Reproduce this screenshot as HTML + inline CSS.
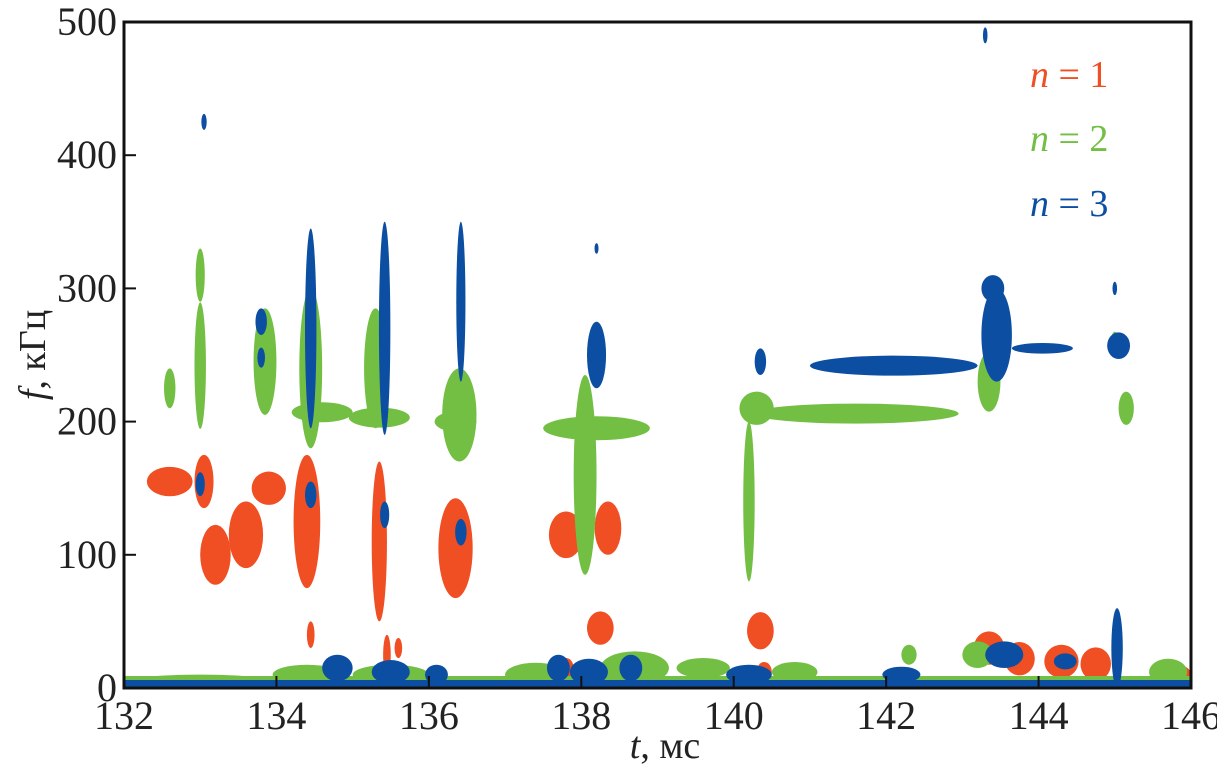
<!DOCTYPE html>
<html><head><meta charset="utf-8"><style>
html,body{margin:0;padding:0;background:#fff;}
svg, svg text{font-family:"Liberation Serif","DejaVu Serif",serif;}
</style></head><body>
<svg id="chart" width="1217" height="771" viewBox="0 0 1217 771" xmlns="http://www.w3.org/2000/svg" font-family="Liberation Serif, serif">
<g id="marks"></g>
<g id="axes"></g>
<g font-size="38" font-family="Liberation Serif, serif">
 <text x="1030" y="87" fill="#f04e23"><tspan font-style="italic">n</tspan> = 1</text>
 <text x="1030" y="151" fill="#72bf44"><tspan font-style="italic">n</tspan> = 2</text>
 <text x="1030" y="216" fill="#0b4ea2"><tspan font-style="italic">n</tspan> = 3</text>
</g>
<text x="665" y="758" font-size="38" text-anchor="middle" font-family="Liberation Serif, serif" fill="#222"><tspan font-style="italic">t</tspan>, мс</text>
<text transform="translate(45,355) rotate(-90)" font-size="38" text-anchor="middle" font-family="Liberation Serif, serif" fill="#222"><tspan font-style="italic">f</tspan>, кГц</text>
</svg>
<script>
// data: [t (ms), f (kHz), width (ms), height (kHz)]
const xTicks=[132,134,136,138,140,142,144,146];
const yTicks=[0,100,200,300,400,500];
const redBlobs=[
[132.6,155,0.6,22],[133.05,155,0.25,40],[133.2,100,0.4,45],[133.6,115,0.45,50],[133.9,150,0.45,25],
[134.4,125,0.35,100],[135.35,110,0.2,120],[136.35,105,0.45,75],[137.8,115,0.45,35],[138.35,120,0.35,40],
[134.45,40,0.1,20],[135.45,25,0.1,30],[138.25,45,0.35,25],[140.35,43,0.35,28],[143.35,30,0.4,25],[143.75,22,0.4,25],
[144.3,20,0.45,25],[144.75,18,0.4,25],[145.85,10,0.3,14],[140.4,12,0.2,15],[137.8,15,0.2,15],[135.6,30,0.1,15]
];
const greenBlobs=[
[133.0,310,0.12,40],[133.0,242,0.15,95],[132.6,225,0.15,30],[133.85,245,0.3,80],[134.45,240,0.3,120],[134.6,207,0.8,15],
[135.3,240,0.3,90],[135.35,203,0.8,15],[136.4,205,0.45,70],[136.35,200,0.55,15],[138.05,160,0.3,150],[138.2,195,1.4,18],
[140.2,140,0.15,120],[140.3,210,0.45,25],[141.6,206,2.7,15],[143.35,230,0.3,45],[145.15,210,0.2,25],[145.0,260,0.1,15],
[133.0,6,1.8,8],[134.4,10,0.9,15],[135.5,10,1.0,15],[137.4,10,0.8,18],[138.7,15,0.9,25],[139.6,15,0.7,15],
[140.8,12,0.6,15],[142.3,25,0.2,15],[143.2,25,0.4,20],[145.7,12,0.5,20]
];
const blueBlobs=[
[133.05,425,0.07,12],[133.0,153,0.12,18],[133.8,275,0.15,20],[133.8,248,0.1,15],[134.45,270,0.15,150],[135.42,270,0.15,160],
[136.42,290,0.12,120],[136.42,117,0.15,20],[134.45,145,0.15,20],[135.42,130,0.12,20],[138.2,250,0.25,50],[138.2,330,0.05,8],
[140.35,245,0.15,20],[142.1,242,2.2,15],[143.45,265,0.4,70],[143.4,300,0.3,20],[144.05,255,0.8,8],[145.05,257,0.3,20],
[145.0,300,0.06,10],[143.3,490,0.06,12],[145.03,30,0.15,60],[143.55,25,0.5,20],[144.35,20,0.3,12],
[134.8,15,0.4,20],[135.5,12,0.5,18],[136.1,10,0.3,15],[137.7,15,0.3,20],[138.1,12,0.5,20],[138.65,15,0.3,20],[140.2,10,0.6,15],[142.2,10,0.5,12]
];
const t0=132,t1=146,f0=0,f1=500,L=124,R=1191,T=22,B=688;
function xs(t){return L+(t-t0)/(t1-t0)*(R-L);}
function ys(f){return B-(f-f0)/(f1-f0)*(B-T);}
const NS="http://www.w3.org/2000/svg";
const marks=document.getElementById('marks');
function draw(arr,color,name){
 arr.forEach(function(b,i){
  const e=document.createElementNS(NS,'ellipse');
  e.setAttribute('cx',xs(b[0]));e.setAttribute('cy',ys(b[1]));
  e.setAttribute('rx',Math.max(2,(xs(b[0]+b[2]/2)-xs(b[0]))));
  e.setAttribute('ry',Math.max(2,(ys(b[1])-ys(b[1]+b[3]/2))));
  e.setAttribute('fill',color);
  
  
  marks.appendChild(e);
 });
}
draw(redBlobs,'#f04e23','n1');
draw(greenBlobs,'#72bf44','n2');
const gb=document.createElementNS(NS,'rect');
gb.setAttribute('x',L);gb.setAttribute('y',ys(9));gb.setAttribute('width',R-L);gb.setAttribute('height',ys(0)-ys(9));gb.setAttribute('fill','#72bf44');


marks.appendChild(gb);
draw(blueBlobs,'#0b4ea2','n3');
const bb=document.createElementNS(NS,'rect');
bb.setAttribute('x',L);bb.setAttribute('y',ys(6));bb.setAttribute('width',R-L);bb.setAttribute('height',ys(0)-ys(6));bb.setAttribute('fill','#0b4ea2');


marks.appendChild(bb);
const ax=document.getElementById('axes');
const fr=document.createElementNS(NS,'rect');
fr.setAttribute('x',L);fr.setAttribute('y',T);fr.setAttribute('width',R-L);fr.setAttribute('height',B-T);
fr.setAttribute('fill','none');fr.setAttribute('stroke','#111');fr.setAttribute('stroke-width','3');


ax.appendChild(fr);
xTicks.forEach(function(v){
 const l=document.createElementNS(NS,'line');
 l.setAttribute('x1',xs(v));l.setAttribute('x2',xs(v));l.setAttribute('y1',B);l.setAttribute('y2',B-12);l.setAttribute('stroke','#111');l.setAttribute('stroke-width','2');
 
 
 ax.appendChild(l);
 const t=document.createElementNS(NS,'text');
 t.setAttribute('x',xs(v));t.setAttribute('y',729);t.setAttribute('font-size','40');t.setAttribute('text-anchor','middle');t.setAttribute('fill','#222');
 t.setAttribute('font-family','Liberation Serif, serif');
 t.textContent=v;
 
 
 ax.appendChild(t);
});
yTicks.forEach(function(v){
 const l=document.createElementNS(NS,'line');
 l.setAttribute('x1',L);l.setAttribute('x2',L+12);l.setAttribute('y1',ys(v));l.setAttribute('y2',ys(v));l.setAttribute('stroke','#111');l.setAttribute('stroke-width','2');
 
 
 ax.appendChild(l);
 const t=document.createElementNS(NS,'text');
 t.setAttribute('x',117);t.setAttribute('y',ys(v)+13);t.setAttribute('font-size','40');t.setAttribute('text-anchor','end');t.setAttribute('fill','#222');
 t.setAttribute('font-family','Liberation Serif, serif');
 t.textContent=v;
 
 
 ax.appendChild(t);
});
</script>
</body></html>
